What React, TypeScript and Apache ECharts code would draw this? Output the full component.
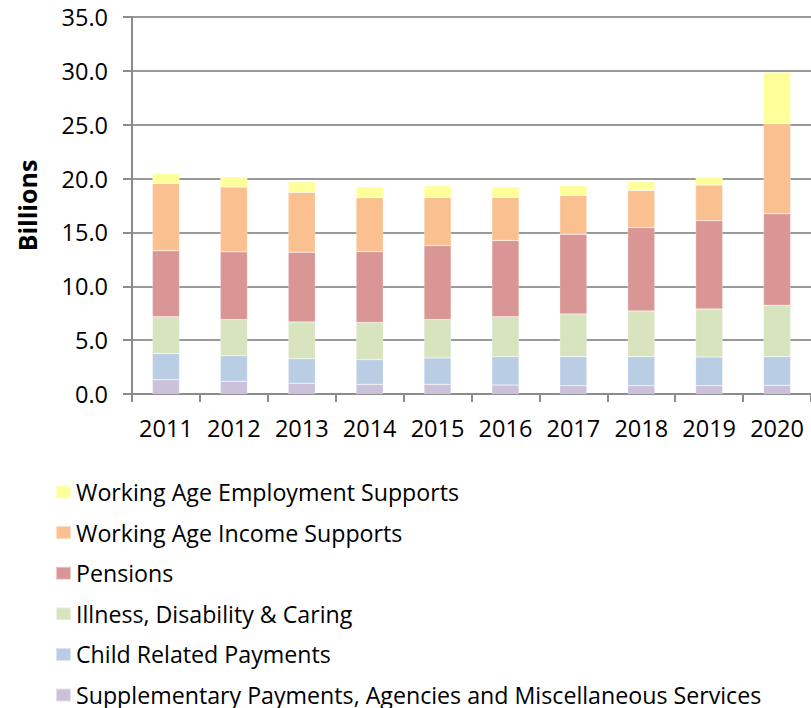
import React, { useEffect, useRef } from "react";
import * as echarts from "echarts";

const years = ["2011", "2012", "2013", "2014", "2015", "2016", "2017", "2018", "2019", "2020"];

const supplementary = [1.33, 1.18, 0.99, 0.9, 0.9, 0.84, 0.77, 0.77, 0.77, 0.81];
const childRelated = [2.42, 2.38, 2.29, 2.29, 2.45, 2.63, 2.7, 2.7, 2.67, 2.66];
const illness = [3.43, 3.35, 3.41, 3.44, 3.56, 3.71, 3.96, 4.24, 4.46, 4.77];
const pensions = [6.11, 6.29, 6.48, 6.6, 6.87, 7.07, 7.41, 7.75, 8.2, 8.49];
const incomeSupports = [6.26, 6.01, 5.54, 4.99, 4.47, 4.0, 3.59, 3.44, 3.3, 8.36];
const employmentSupports = [0.9, 0.96, 0.99, 1.02, 1.08, 0.99, 0.9, 0.8, 0.74, 4.77];

const seriesNames = [
  "Supplementary Payments, Agencies and Miscellaneous Services",
  "Child Related Payments",
  "Illness, Disability & Caring",
  "Pensions",
  "Working Age Income Supports",
  "Working Age Employment Supports",
];
const seriesData = [supplementary, childRelated, illness, pensions, incomeSupports, employmentSupports];
const colors = ["#CCC1DA", "#B9CDE5", "#D7E4BD", "#D99694", "#FAC090", "#FFFF99"];

const FONT = "Open Sans";

export default function App() {
  const ref = useRef<HTMLDivElement>(null);
  useEffect(() => {
    if (!ref.current) return;
    const chart = echarts.init(ref.current, undefined, { renderer: "svg" });
    const legendOrder = [...seriesNames].reverse();
    chart.setOption({
      animation: false,
      textStyle: { fontFamily: FONT },
      grid: { left: 132, top: 17, width: 683, height: 377, containLabel: false },
      legend: legendOrder.map((name, k) => ({
        orient: "vertical",
        left: 55,
        top: 480 + k * 40.6,
        padding: 0,
        itemWidth: 15,
        itemHeight: 13,
        icon: "rect",
        data: [name],
        textStyle: {
          fontFamily: FONT,
          fontSize: 23.2,
          lineHeight: 24,
          color: "#000",
        },
      })),
      xAxis: {
        type: "category",
        data: years,
        axisLine: { lineStyle: { color: "#8c8c8c", width: 2 } },
        axisTick: { show: true, length: 8, lineStyle: { color: "#8c8c8c", width: 2 } },
        axisLabel: { fontFamily: FONT, fontSize: 23.5, color: "#000", margin: 22, interval: 0 },
      },
      yAxis: {
        type: "value",
        min: 0,
        max: 35,
        interval: 5,
        name: "Billions",
        nameLocation: "middle",
        nameRotate: 90,
        nameGap: 93,
        nameTextStyle: { fontFamily: FONT, fontSize: 25, fontWeight: "bold", color: "#000" },
        axisLine: { show: true, lineStyle: { color: "#8c8c8c", width: 2 } },
        axisTick: { show: true, length: 9, lineStyle: { color: "#8c8c8c", width: 2 } },
        axisLabel: {
          fontFamily: FONT,
          fontSize: 23.5,
          color: "#000",
          margin: 24,
          formatter: (v: number) => v.toFixed(1),
        },
        splitLine: { show: true, lineStyle: { color: "#999", width: 2 } },
      },
      series: seriesNames.map((name, i) => ({
        name,
        type: "bar",
        stack: "total",
        data: seriesData[i],
        barWidth: "40%",
        itemStyle: { color: colors[i], borderColor: "rgba(255,255,255,0.5)", borderWidth: 0.5 },
      })),
    });
    return () => chart.dispose();
  }, []);
  return (
    <div
      ref={ref}
      style={{ position: "fixed", left: 0, top: 0, width: 811, height: 708, background: "#fff" }}
    />
  );
}
